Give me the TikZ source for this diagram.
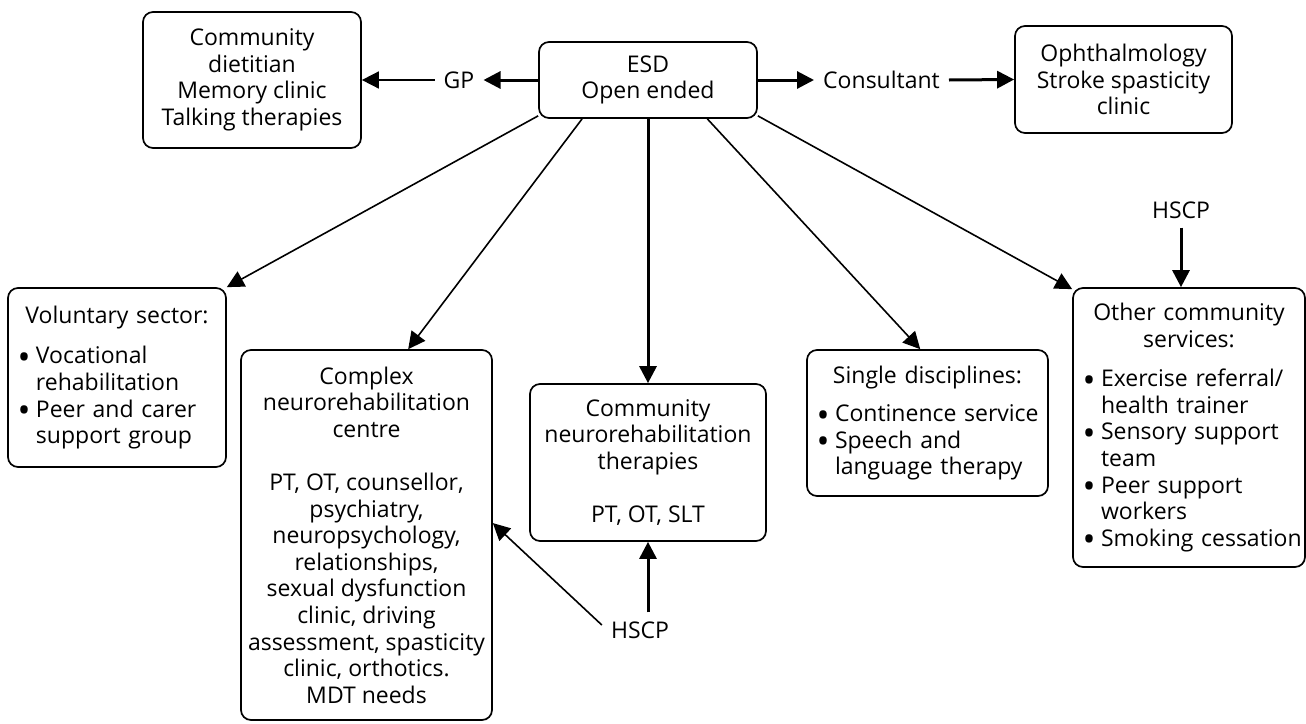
\documentclass[tikz,border=0pt]{standalone}
\usepackage{fontspec}
\usepackage{graphicx}
\setmainfont{Open Sans}
\usetikzlibrary{arrows.meta,calc}
% list helpers: bullet with hanging indent, and a centred heading line
\newcommand\bigbullet{\raisebox{-5.5pt}{\scalebox{1.5}{•}}}
\newcommand\blt{\hspace*{7pt}\makebox[18pt][c]{\bigbullet}\hspace*{3pt}}
\newcommand\ind{\hspace*{28pt}}
\newcommand\hdr[2]{\makebox[#1][c]{#2}}
\begin{document}
\begin{tikzpicture}[x=1pt,y=-1pt,
  every node/.style={font=\fontsize{23pt}{26.6pt}\selectfont},
  box/.style={draw,rounded corners=10pt,line width=1.7pt,inner sep=0pt,align=center},
  listbox/.style={box,align=left},
  lbl/.style={inner xsep=9pt,inner ysep=9pt},
  conn/.style={line width=1.6pt,-{Triangle[length=17pt,width=17pt]}},
  thickconn/.style={line width=3pt,-{Triangle[length=17pt,width=17pt]}}]
\useasboundingbox (0,0) rectangle (1306,723);

% top row
\node[box,minimum width=218pt,minimum height=136pt] (gpsvc) at (252,80)
  {Community\\dietitian\\Memory clinic\\Talking therapies};
\node[box,minimum width=218pt,minimum height=76pt] (esd) at (648,80)
  {ESD\\Open ended};
\node[box,minimum width=217pt,minimum height=107pt] (oph) at (1123.5,79.5)
  {Ophthalmology\\Stroke spasticity\\clinic};
\node[lbl] (gp) at (459,80) {GP};
\node[lbl] (cons) at (881.5,80) {Consultant};

% services reached from ESD
\node[listbox,text width=218pt,minimum height=179pt] (vol) at (117,377.5)
  {\hdr{218pt}{Voluntary sector:}\\[14pt]
   \blt Vocational\\
   \ind rehabilitation\\
   \blt Peer and carer\\
   \ind support group};
\node[box,minimum width=251pt,minimum height=370pt] (cplx) at (366.5,535)
  {Complex\\neurorehabilitation\\centre\\[26.6pt]
   PT, OT, counsellor,\\psychiatry,\\neuropsychology,\\relationships,\\
   sexual dysfunction\\clinic, driving\\assessment, spasticity\\
   clinic, orthotics.\\MDT needs};
\node[box,minimum width=236pt,minimum height=157pt] (comm) at (648,462.5)
  {Community\\neurorehabilitation\\therapies\\[26.6pt]PT, OT, SLT};
\node[listbox,text width=241pt,minimum height=146pt] (single) at (927.5,423)
  {\hdr{241pt}{Single disciplines:}\\[12pt]
   \blt Continence service\\
   \blt Speech and\\
   \ind language therapy};
\node[listbox,text width=232pt,minimum height=279pt] (other) at (1189,427.5)
  {\hdr{232pt}{Other community}\\
   \hdr{232pt}{services:}\\[13pt]
   \blt Exercise referral/\\
   \ind health trainer\\
   \blt Sensory support\\
   \ind team\\
   \blt Peer support\\
   \ind workers\\
   \blt Smoking cessation};
\node[lbl] (hscpr) at (1181,210) {HSCP};
\node[lbl] (hscpm) at (640,630) {HSCP};

% connectors
\draw[thickconn] (esd.west) -- (gp.east);
\draw[conn] (gp.west) -- (gpsvc.east);
\draw[thickconn] (esd.east) -- (cons.west);
\draw[thickconn] (cons.east) -- (oph.west);

\draw[conn] ($(esd.south west)+(0,-3)$) -- (vol.north east);
\draw[conn] ($(esd.south west)!0.2!(esd.south east)$)
  -- ($(cplx.north west)!0.665!(cplx.north east)$);
\draw[thickconn] (esd.south) -- (comm.north);
\draw[conn] ($(esd.south west)!0.77!(esd.south east)$)
  -- ($(single.north west)!0.47!(single.north east)$);
\draw[conn] ($(esd.south east)+(0,-3)$) -- ($(other.north west)+(0,2)$);

\draw[thickconn] (hscpr.south) -- (hscpr.south |- other.north);
\draw[thickconn] (comm.south |- hscpm.north) -- (comm.south);
\draw[conn] ($(hscpm.west)+(0,-5)$)
  -- ($(cplx.north east)!0.468!(cplx.south east)$);
\end{tikzpicture}
\end{document}
